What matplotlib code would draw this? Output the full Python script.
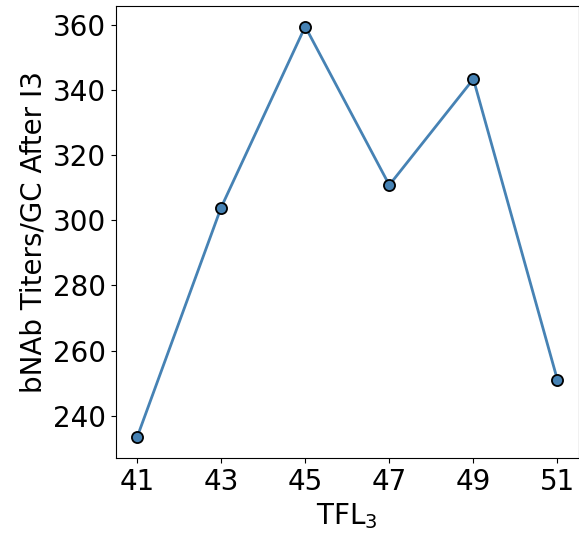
import matplotlib
matplotlib.use("Agg")
import matplotlib.pyplot as plt

tfl = [41, 43, 45, 47, 49, 51]
titers = [233.4, 303.9, 359.4, 310.8, 343.3, 251.0]
xticks = [41, 43, 45, 47, 49, 51]
yticks = [240, 260, 280, 300, 320, 340, 360]

fig = plt.figure(figsize=(5.79, 5.35), dpi=100)
ax = fig.add_axes([116/579, 1 - 458/535, (578.5 - 116)/579, (458 - 6)/535])
ax.plot(tfl, titers, color="steelblue", linewidth=2, marker="o",
        markersize=8, markerfacecolor="steelblue", markeredgecolor="black",
        markeredgewidth=1.3)
ax.set_xticks(xticks)
ax.set_yticks(yticks)
ax.tick_params(labelsize=20)
ax.set_xlabel("TFL$_3$", fontsize=20)
ax.set_ylabel("bNAb Titers/GC After I3", fontsize=20)
fig.savefig("out.png", dpi=100)
